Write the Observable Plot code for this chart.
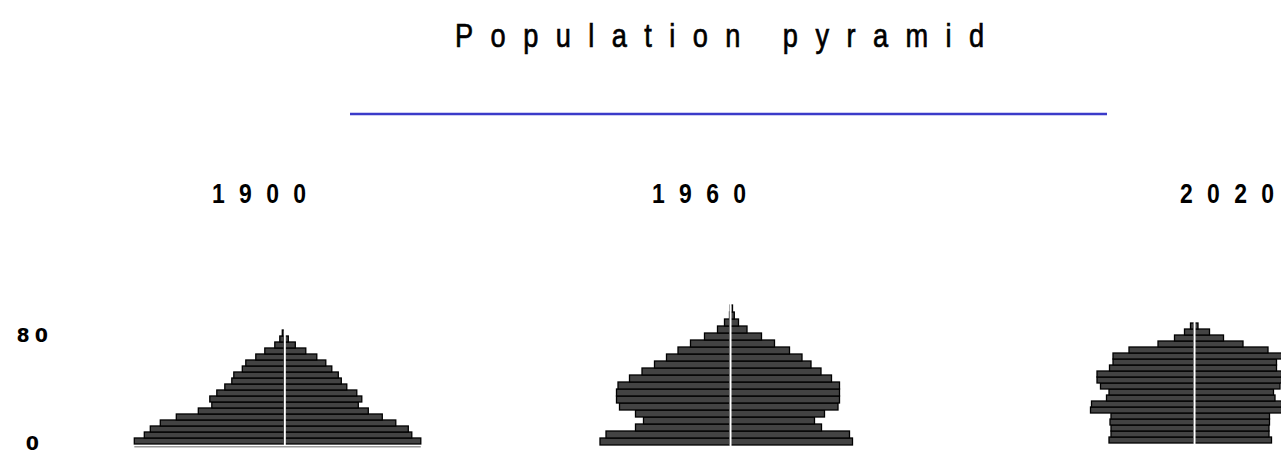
<!DOCTYPE html>
<html><head><meta charset="utf-8">
<script src="https://cdn.jsdelivr.net/npm/d3@7"></script>
<script src="https://cdn.jsdelivr.net/npm/@observablehq/plot@0.6"></script>
<style>
body{margin:0;background:#fff;overflow:hidden}
#chart{position:relative;width:1281px;height:453px;overflow:hidden;background:#fff}
#chart > svg{position:absolute;top:0;margin:0}
</style></head><body><div id="chart"></div>
<script>
// Age groups (lower bound of 5-year band)
const ageGroups = [0,5,10,15,20,25,30,35,40,45,50,55,60,65,70,75,80,85,90,95];
const years = ["1900","1960","2020"];
const yTicks = [0, 80];
const chartTitle = "Population pyramid";

// Population per age group (relative units), left = male, right = female
const male1900   = [150,140,134,124,108,86,72.5,74.5,67.5,59.5,52.5,50.5,42,38.5,28.5,19.5,9.5,4.5,2];
const female1900 = [136.5,127.5,124,111.5,98,84,74,77.5,72.5,62.5,57,54,47.5,41.5,32.5,21.5,11,4,0];
const male1960   = [130,124,94.5,86.5,94.5,110.5,113.5,113.5,112,100.5,88,75.5,63.5,52,39.5,25.5,12.5,5.5,0.5,0];
const female1960 = [122.5,119.5,91.5,84.5,94.5,108,109.5,109.5,109.5,101.5,91,81,72,59.5,44.5,31.5,17,8.5,4.3,2.5];
const male2020   = [85,83,83,84,83,103.5,102.5,87.5,85,93.5,97,97,84.5,81,81,65,36,19.5,9.5,3.5];
const female2020 = [77.5,75,75,75.5,75.5,95,94,81,79.5,86,89,89,82.5,82.5,88,74,49,29.5,15.5,4];

const chart = document.getElementById("chart");

function rowsFor(male, female) {
  const rows = [];
  male.forEach((m, i) => {
    rows.push({age: ageGroups[i], sex: "Male", x1: -m, x2: 0});
    rows.push({age: ageGroups[i], sex: "Female", x1: 0, x2: female[i]});
  });
  return rows;
}

function pyramid({male, female, left, width, marginLeft, marginTop, marginBottom, withAxis}) {
  const ages = ageGroups.slice(0, male.length);
  const rows = rowsFor(male, female);
  const marks = [
    Plot.barX(rows, {x1: "x1", x2: "x2", y: "age", fill: "#434343", stroke: "#000", strokeWidth: 1.3}),
    Plot.ruleX([0], {stroke: "#fff", strokeWidth: 2})
  ];
  if (withAxis) {
    const axisOpts = {anchor: "left", tickSize: 0, tickPadding: 0, textAnchor: "middle", label: null,
      dx: -30, fontSize: 19, fontWeight: "bold", fill: "#000"};
    marks.push(Plot.ruleY([rows[0]], {x1: -male[0], x2: female[0], y: "age", dy: 5.3, stroke: "#9a9a9a", strokeWidth: 1.5}));
    marks.push(Plot.axisY([yTicks[0]], {...axisOpts, dy: 2}));
    marks.push(Plot.axisY([yTicks[1]], {...axisOpts, dy: -10}));
  }
  const svg = Plot.plot({
    width, height: 453,
    marginLeft, marginRight: 0, marginTop, marginBottom,
    style: {background: "transparent", fontFamily: "'DejaVu Sans', Arial, sans-serif", letterSpacing: "5px", overflow: "visible"},
    x: {domain: [-220, 220], axis: null},
    y: {type: "band", domain: ages.slice().reverse(), padding: 0, label: null, axis: withAxis ? undefined : null},
    marks
  });
  svg.style.left = left + "px";
  chart.appendChild(svg);
}

pyramid({male: male1900, female: female1900, left: 0, width: 504.3, marginLeft: 64.3, marginTop: 324.2, marginBottom: 3.7, withAxis: true});
pyramid({male: male1960, female: female1960, left: 509.7, width: 440, marginLeft: 0, marginTop: 301, marginBottom: 4.6});
pyramid({male: male2020, female: female2020, left: 974.3, width: 440, marginLeft: 0, marginTop: 316.7, marginBottom: 3});

// Title, rule and panel headings (condensed sans)
const overlay = d3.select(chart).append("svg")
  .attr("width", 1281).attr("height", 453)
  .style("left", "0px").style("pointer-events", "none");
overlay.append("text")
  .attr("transform", "translate(455,47) scale(0.8,1)")
  .attr("font-family", "Liberation Sans, Arial, sans-serif")
  .attr("font-size", 34).attr("letter-spacing", "21.8px").attr("fill", "#000")
  .attr("stroke", "#000").attr("stroke-width", 0.7)
  .text(chartTitle);
overlay.append("line")
  .attr("x1", 350).attr("x2", 1107).attr("y1", 114).attr("y2", 114)
  .attr("stroke", "#3b3bc9").attr("stroke-width", 2.5);
const headX = [212, 652, 1180];
const heads = overlay.selectAll("text.head").data(years).join("text")
  .attr("class", "head")
  .attr("transform", (d, i) => `translate(${headX[i]},203) scale(0.82,1)`)
  .attr("font-family", "Liberation Sans, Arial, sans-serif")
  .attr("font-weight", "bold")
  .attr("font-size", 28).attr("fill", "#000");
heads.append("tspan").attr("letter-spacing", "17.5px").text(d => d.slice(0, -1));
heads.append("tspan").attr("letter-spacing", "0px").text(d => d.slice(-1));
</script>
</body></html>
